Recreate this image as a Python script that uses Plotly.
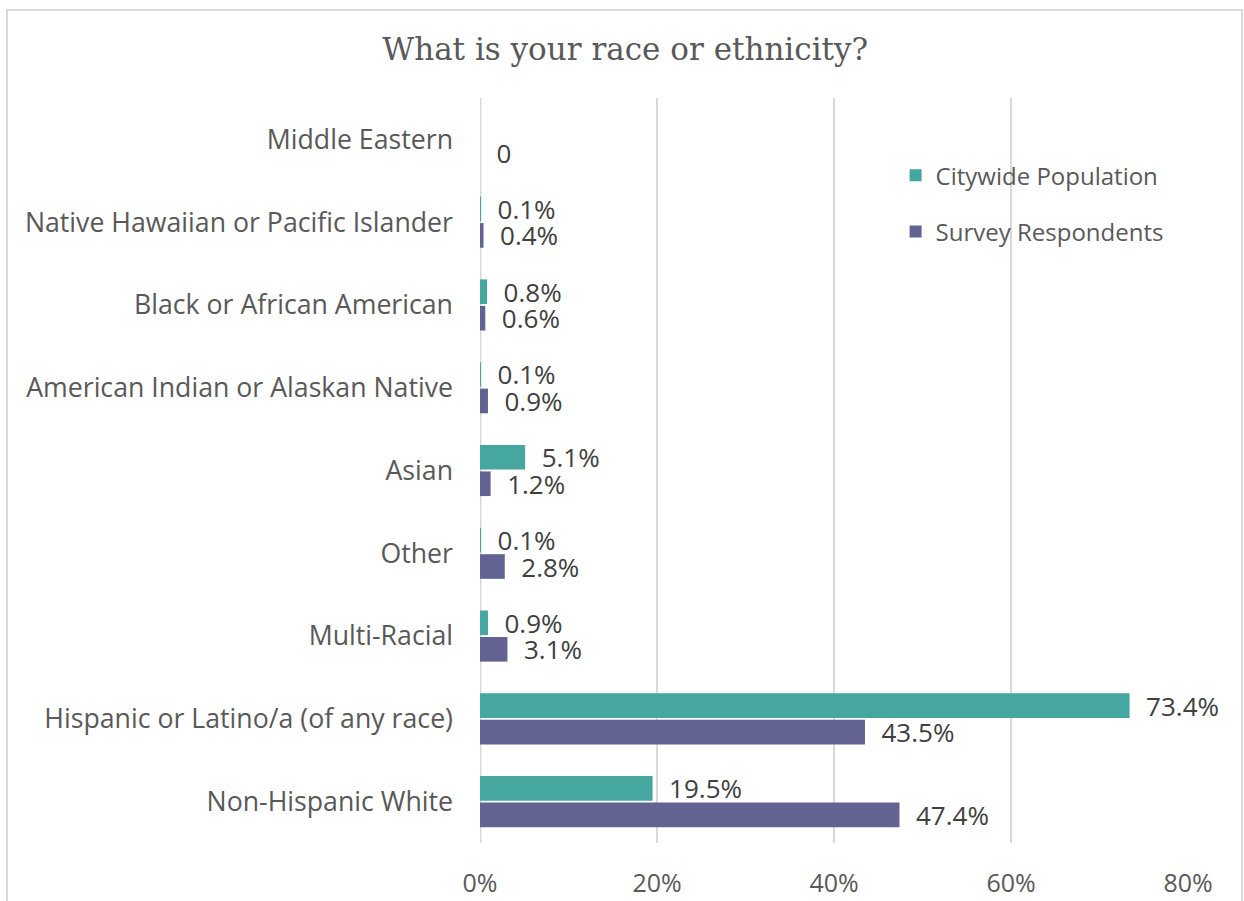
import plotly.graph_objects as go

# Categories listed top to bottom
categories = [
    "Middle Eastern",
    "Native Hawaiian or Pacific Islander",
    "Black or African American",
    "American Indian or Alaskan Native",
    "Asian",
    "Other",
    "Multi-Racial",
    "Hispanic or Latino/a (of any race)",
    "Non-Hispanic White",
]
citywide = [None, 0.1, 0.8, 0.1, 5.1, 0.1, 0.9, 73.4, 19.5]
survey = [0, 0.4, 0.6, 0.9, 1.2, 2.8, 3.1, 43.5, 47.4]
x_ticks = [0, 20, 40, 60, 80]
x_tick_labels = ["0%", "20%", "40%", "60%", "80%"]

TEAL = "#46a6a0"
PURPLE = "#636393"
LABEL_GRAY = "#595959"
TEXT_DARK = "#404040"
GRID = "#d9d9d9"
PAD = "\u00a0\u00a0"


def fmt(v):
    if v is None:
        return ""
    if v == 0:
        return PAD + "0"
    return PAD + f"{v}%"


fig = go.Figure()
for name, vals, color in [
    ("Citywide Population", citywide, TEAL),
    ("Survey Respondents", survey, PURPLE),
]:
    fig.add_trace(go.Bar(
        y=categories,
        x=vals,
        name=name,
        legendgroup=name,
        orientation="h",
        marker=dict(color=color, line=dict(width=0)),
        text=[fmt(v) for v in vals],
        textposition="outside",
        constraintext="none",
        cliponaxis=False,
        textfont=dict(family="Open Sans", size=26, color=TEXT_DARK),
        hoverinfo="skip",
    ))

fig.update_layout(
    width=1244,
    height=901,
    margin=dict(l=480, r=56, t=98, b=58),
    paper_bgcolor="white",
    plot_bgcolor="white",
    barmode="group",
    bargap=0.36,
    bargroupgap=0.07,
    title=dict(
        text="What is your race or ethnicity?",
        x=0.5026, xanchor="center",
        y=0.946, yanchor="middle",
        font=dict(family="DejaVu Serif", size=31, color=LABEL_GRAY),
    ),
    legend=dict(
        x=0.587, y=0.926, xanchor="left", yanchor="top",
        font=dict(family="Open Sans", size=24, color=LABEL_GRAY),
        bgcolor="rgba(0,0,0,0)",
        itemsizing="constant",
        tracegroupgap=22,
    ),
    xaxis=dict(
        range=[0, 80],
        tickvals=x_ticks,
        ticktext=x_tick_labels,
        showgrid=True,
        gridcolor=GRID,
        gridwidth=2,
        zeroline=False,
        showline=False,
        ticks="",
        automargin=False,
        ticklabelstandoff=23,
        tickfont=dict(family="Open Sans", size=25, color=LABEL_GRAY),
        fixedrange=True,
    ),
    yaxis=dict(
        autorange="reversed",
        showgrid=False,
        zeroline=False,
        showline=False,
        ticks="",
        automargin=False,
        ticklabelstandoff=26,
        tickfont=dict(family="Open Sans", size=26.7, color=LABEL_GRAY),
        fixedrange=True,
    ),
    shapes=[
        # vertical axis line at 0%
        dict(type="line", xref="x", yref="paper", x0=0, x1=0, y0=0, y1=1,
             line=dict(color=GRID, width=3), layer="below"),
        # outer chart border
        dict(type="rect", xref="paper", yref="paper",
             x0=(7 - 480) / 708, x1=(1242 - 480) / 708,
             y0=-0.2, y1=(843 - 10) / 745,
             line=dict(color=GRID, width=2), fillcolor="rgba(0,0,0,0)",
             layer="below"),
    ],
)

fig.write_html("out.html")
